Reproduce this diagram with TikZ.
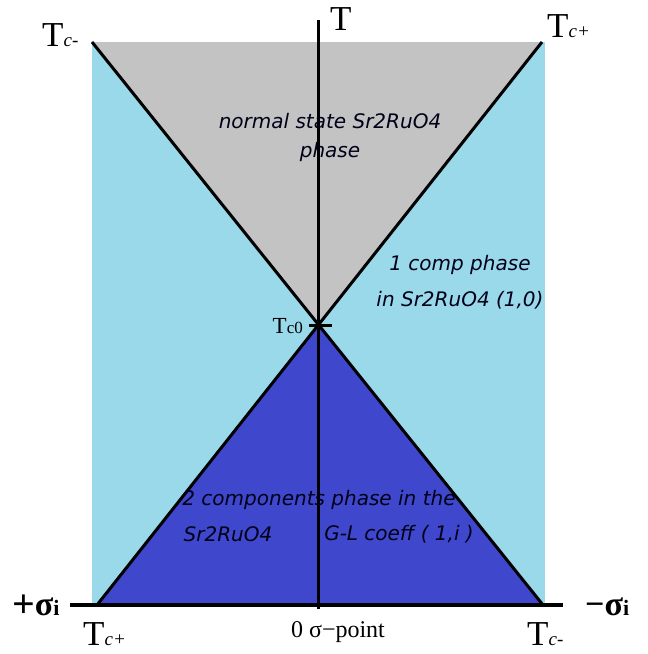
\documentclass[tikz,border=0pt]{standalone}
\usepackage{fontspec}
\setmainfont{Liberation Serif}
\newfontfamily\handfont{DejaVu Sans}
\usetikzlibrary{calc}
\definecolor{paleblue}{HTML}{99D9EA}
\definecolor{paintgray}{HTML}{C3C3C3}
\definecolor{indigo}{HTML}{3F48CC}
\newcommand{\Tsub}[1]{T{\fontsize{19}{19}\selectfont\itshape #1}}
\begin{document}
\begin{tikzpicture}[x=1pt,y=-1pt,
  axis/.style={line width=3.5pt},
  boundary/.style={line width=3pt},
  biglab/.style={font=\fontsize{35}{35}\selectfont},
  sigma/.style={font=\bfseries\fontsize{34}{34}\selectfont,inner sep=0},
  phase/.style={font=\handfont\itshape\fontsize{20}{20}\selectfont,align=center,text=black!90!blue}]
\useasboundingbox (0,0) rectangle (648,654);
\coordinate (TL) at (92,42);
\coordinate (TR) at (542,42);
\coordinate (BL) at (97,605);
\coordinate (BR) at (543,605);
\coordinate (Tc0) at (318,325);
\coordinate (Xl) at (70,605);
\coordinate (Xr) at (563,605);
\coordinate (Yt) at (318,20);
\coordinate (Yb) at (318,609);
% regions
\fill[paleblue] (92,42) rectangle (545,605);
\fill[paintgray] (TL) -- (TR) -- (Tc0) -- cycle;
\fill[indigo] (Tc0) -- (BL) -- (BR) -- cycle;
\draw[boundary] (TL) -- (BR);
\draw[boundary] (TR) -- (BL);
% axes
\draw[axis] (Xl) -- (Xr);
\draw[line width=3pt] (Yt) -- (Yb);
\draw[line width=3pt] ($(Tc0)+(-9,0)$) -- ($(Tc0)+(14,0)$);
% labels
\node[biglab,anchor=base west,inner sep=0] (Tax) at (330,30) {T};
\node[biglab,anchor=base west,inner sep=0] (Tcm) at (42,46) {\Tsub{c-}};
\node[biglab,anchor=base west,inner sep=0] (Tcp) at (547,37) {\Tsub{c+}};
\node[anchor=base east,inner sep=0,font=\fontsize{23}{23}\selectfont] (Tzero) at (303,333) {T{\fontsize{17}{17}\selectfont c0}};
\node[biglab,anchor=base west,inner sep=0] (Tcpb) at (83,645) {\Tsub{c+}};
\node[biglab,anchor=base west,inner sep=0] (Tcmb) at (527,645) {\Tsub{c-}};
\node[anchor=base,inner sep=0,font=\fontsize{24}{24}\selectfont] (zero) at (338,637) {0 σ−point};
\node[sigma,anchor=base west] (sigp) at (12,615) {\raisebox{-2pt}{\fontsize{40}{40}\selectfont+}σ{\fontsize{22}{22}\selectfont i}};
\node[sigma,anchor=base west] (sigm) at (585,615) {−σ{\fontsize{22}{22}\selectfont i}};
\node[phase] (normal) at (330,137) {normal state Sr2RuO4\\[9pt]phase};
\node[phase] (onecomp) at (460,282) {1 comp phase\\[16pt]in Sr2RuO4 (1,0)};
\node[phase] (twocomp) at (319,500) {2 components phase in the};
\node[phase] (srleft) at (228,534) {Sr2RuO4};
\node[phase] (glcoeff) at (399,534) {G-L coeff ( 1,i )};
\end{tikzpicture}
\end{document}
